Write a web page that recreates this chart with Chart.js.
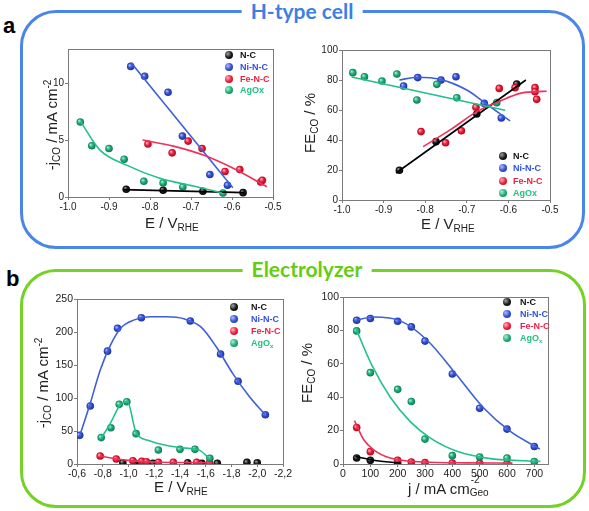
<!DOCTYPE html>
<html><head><meta charset="utf-8">
<script src="https://cdn.jsdelivr.net/npm/chart.js@4.4.1/dist/chart.umd.min.js"></script>
<style>
html,body{margin:0;padding:0;background:#fff;}
#wrap{position:relative;width:589px;height:511px;overflow:hidden;font-family:'Liberation Sans',Arial,sans-serif;background:#fff;}
canvas{position:absolute;left:0;top:0;}
.frame{position:absolute;box-sizing:border-box;border-radius:36px;}
.ftitle{position:absolute;font-family:Lato,'Open Sans',sans-serif;font-weight:700;font-size:21px;background:#fff;line-height:24px;white-space:nowrap;transform:translateX(-50%);padding:0 9px;}
.plabel{position:absolute;font-weight:bold;font-size:22px;line-height:22px;color:#000;}
.xt{position:absolute;font-size:15px;line-height:15px;white-space:nowrap;color:#222;z-index:5;}
.yt{position:absolute;font-size:15px;line-height:15px;white-space:nowrap;color:#222;transform:translate(-50%,-50%) rotate(-90deg);z-index:5;}
.xt sub,.yt sub{font-size:10px;line-height:0;vertical-align:-3px;}
.xt sup,.yt sup{font-size:10px;line-height:0;vertical-align:6px;}
.stack{display:inline-block;position:relative;width:20px;height:10px;}
.stack .s1{position:absolute;left:1px;top:-9px;font-size:10px;line-height:10px;}
.stack .s2{position:absolute;left:0;top:4px;font-size:10px;line-height:10px;}
.lrow{position:absolute;font-size:9px;font-weight:bold;line-height:10px;white-space:nowrap;z-index:5;}
.lrow sub{font-size:6px;line-height:0;vertical-align:-2px;}
.dot{position:absolute;width:8px;height:8px;border-radius:50%;z-index:5;}
</style></head>
<body>
<div id="wrap">
  <div class="frame" style="left:20px;top:10px;width:565px;height:239px;border:3px solid #4a86e8;"></div>
  <div class="ftitle" style="left:302px;top:-1px;color:#3c7fe6;">H-type cell</div>
  <div class="frame" style="left:20px;top:269px;width:566px;height:239px;border:3px solid #74d125;"></div>
  <div class="ftitle" style="left:307px;top:257px;color:#66cc11;">Electrolyzer</div>
  <div class="plabel" style="left:3px;top:15px;">a</div>
  <div class="plabel" style="left:6px;top:268px;">b</div>

  <canvas id="c1" width="589" height="511"></canvas>
  <canvas id="c2" width="589" height="511"></canvas>
  <canvas id="c3" width="589" height="511"></canvas>
  <canvas id="c4" width="589" height="511"></canvas>

  <div class="xt" style="left:145px;top:215px;">E / V<sub>RHE</sub></div>
  <div class="yt" style="left:51px;top:125px;">-j<sub>CO</sub> / mA cm<sup>-2</sup></div>
  <div class="xt" style="left:421px;top:216px;">E / V<sub>RHE</sub></div>
  <div class="yt" style="left:309px;top:123px;">FE<sub>CO</sub> / %</div>
  <div class="xt" style="left:154px;top:479px;">E / V<sub>RHE</sub></div>
  <div class="yt" style="left:42px;top:383px;">-j<sub>CO</sub> / mA cm<sup>-2</sup></div>
  <div class="xt" style="left:408px;top:481px;">j / mA cm<span class="stack"><span class="s1">-2</span><span class="s2">Geo</span></span></div>
  <div class="yt" style="left:306px;top:373px;">FE<sub>CO</sub> / %</div>
  <div id="legends"></div>
</div>
<script>
// ---------- Panel a (H-type cell): partial current density ----------
const aJ_NC_E = [-0.858, -0.768, -0.671, -0.573];
const aJ_NC   = [0.68, 0.59, 0.50, 0.38];
const aJ_Ni_E = [-0.847, -0.813, -0.756, -0.721, -0.654, -0.611];
const aJ_Ni   = [11.47, 10.6, 9.2, 5.35, 1.97, 1.03];
const aJ_Fe_E = [-0.805, -0.746, -0.707, -0.673, -0.617, -0.581, -0.530, -0.526];
const aJ_Fe   = [4.65, 3.88, 4.91, 4.26, 2.24, 2.41, 1.32, 1.47];
const aJ_Ag_E = [-0.970, -0.942, -0.900, -0.863, -0.815, -0.768, -0.720, -0.622];
const aJ_Ag   = [6.59, 4.5, 4.26, 3.32, 1.38, 1.24, 0.88, 0.35];
// fitted curves
const aJfit_NC_E = [-0.865, -0.570];
const aJfit_NC   = [0.65, 0.38];
const aJfit_Ni_E = [-0.846, -0.598];
const aJfit_Ni   = [11.8, 0.82];
const aJfit_Fe_E = [-0.818, -0.743, -0.670, -0.597, -0.515];
const aJfit_Fe   = [5.0, 4.47, 3.68, 2.52, 0.9];
const aJfit_Ag_E = [-0.969, -0.922, -0.857, -0.776, -0.694, -0.625];
const aJfit_Ag   = [6.6, 4.12, 2.8, 1.64, 0.96, 0.38];

// ---------- Panel a: Faradaic efficiency ----------
const aF_NC_E = [-0.862, -0.774, -0.676, -0.580];
const aF_NC   = [19.8, 38.9, 57.3, 77.3];
const aF_Ni_E = [-0.852, -0.818, -0.762, -0.726, -0.658, -0.617];
const aF_Ni   = [76, 81.6, 80, 82.2, 64.4, 54.7];
const aF_Fe_E = [-0.810, -0.751, -0.713, -0.678, -0.622, -0.584, -0.536, -0.536, -0.532];
const aF_Fe   = [45.6, 38.2, 46.2, 61.8, 74.4, 74.9, 74.9, 72.2, 67.1];
const aF_Ag_E = [-0.974, -0.946, -0.904, -0.868, -0.820, -0.772, -0.724, -0.628];
const aF_Ag   = [84.9, 82.2, 79.3, 84, 66.7, 77.1, 68.2, 64.9];
const aFfit_NC_E = [-0.870, -0.558];
const aFfit_NC   = [18, 80];
const aFfit_Ni_E = [-0.862, -0.820, -0.764, -0.700, -0.660, -0.596];
const aFfit_Ni   = [80, 81.8, 80.4, 73.3, 65.5, 52.7];
const aFfit_Fe_E = [-0.805, -0.740, -0.676, -0.620, -0.572, -0.536, -0.508];
const aFfit_Fe   = [35.6, 46.7, 58.9, 66, 71.1, 72.2, 72.5];
const aFfit_Ag_E = [-0.977, -0.608];
const aFfit_Ag   = [82, 59.8];

// ---------- Panel b (Electrolyzer): partial current density ----------
const bJ_NC_E = [-0.956, -1.05, -1.19, -1.46, -1.57, -1.69, -1.92, -2.0];
const bJ_NC   = [2, 1, 1, 2, 1, 1, 2.5, 2];
const bJ_Ni_E = [-0.621, -0.703, -0.837, -0.915, -1.10, -1.48, -1.715, -1.851, -2.063];
const bJ_Ni   = [43.4, 87.9, 171, 205.6, 221.7, 216.7, 166.7, 125.3, 74.7];
const bJ_Fe_E = [-0.78, -0.905, -1.034, -1.103, -1.14, -1.232, -1.348, -1.53, -1.63];
const bJ_Fe   = [12.1, 7.6, 5, 4, 3.5, 2.5, 2.5, 2.5, 2];
const bJ_Ag_E = [-0.788, -0.863, -0.928, -0.987, -1.059, -1.232, -1.40, -1.516, -1.632];
const bJ_Ag   = [40, 55, 90.4, 94.4, 46, 21.2, 22.2, 22.2, 8.6];
const bJfit_Ni_E = [-0.62, -0.70, -0.78, -0.86, -0.94, -1.04, -1.17, -1.30, -1.43, -1.56, -1.68, -1.81, -1.94, -2.06];
const bJfit_Ni   = [42, 90, 142, 180, 206, 218, 223, 223, 220, 208, 178, 137, 102, 75];
const bJfit_Fe_E = [-0.78, -0.90, -1.00, -1.20, -1.40, -1.65];
const bJfit_Fe   = [12, 8, 5.5, 3, 2.2, 1.8];
const bJfit_Ag_E = [-0.788, -0.86, -0.93, -0.99, -1.06, -1.15, -1.30, -1.45, -1.55, -1.63];
const bJfit_Ag   = [39, 62, 88, 95, 47, 36, 28, 24, 21, 8];

// ---------- Panel b: Faradaic efficiency vs current density ----------
const bF_NC_j = [50, 100, 200];
const bF_NC   = [3.6, 2.2, 0.5];
const bF_Ni_j = [50, 100, 200, 250, 300, 400, 500, 600, 700];
const bF_Ni   = [86.1, 87.1, 85.5, 82.1, 73.6, 53.9, 33.4, 20.9, 10.5];
const bF_Fe_j = [50, 100, 200, 250, 300, 400, 500, 600];
const bF_Fe   = [21.9, 7.4, 2.2, 1.2, 0.8, 0.5, 0.4, 0.3];
const bF_Ag_j = [50, 100, 200, 250, 300, 400, 500, 600, 700];
const bF_Ag   = [79.7, 54.7, 44.7, 37.4, 14.9, 5, 4.2, 3.6, 1.4];
const bFfit_NC_j = [45, 112, 210];
const bFfit_NC   = [4.5, 2.2, 0.6];
const bFfit_Ni_j = [45, 112, 210, 310, 411, 512, 612, 720];
const bFfit_Ni   = [86, 88, 85.7, 73.8, 54.3, 34, 19.5, 9];
const bFfit_Fe_j = [42, 76, 112, 173, 295, 450, 620];
const bFfit_Fe   = [26, 14.5, 8.5, 3.6, 1.2, 0.7, 0.5];
const bFfit_Ag_j = [45, 106, 173, 246, 320, 417, 539, 722];
const bFfit_Ag   = [82, 59, 40, 25.4, 15.5, 7.6, 3.2, 1.6];

// ---------- tick labels ----------
const aXTicks = [-1.0, -0.9, -0.8, -0.7, -0.6, -0.5];
const aJYTicks = [0, 5, 10];
const aFYTicks = [0, 20, 40, 60, 80, 100];
const bJXTicks = [-0.6, -0.8, -1.0, -1.2, -1.4, -1.6, -1.8, -2.0, -2.2];
const bJYTicks = [0, 50, 100, 150, 200, 250];
const bFXTicks = [0, 100, 200, 300, 400, 500, 600, 700];
const bFYTicks = [0, 20, 40, 60, 80, 100];

const seriesA = ['N-C', 'Ni-N-C', 'Fe-N-C', 'AgOx'];
const seriesB = ['N-C', 'Ni-N-C', 'Fe-N-C', 'AgO<sub>x</sub>'];

// ---------- styles ----------
const STY = [
  {line:'#000000', base:'#1c1c1c', light:'#a0a0a0', dark:'#000000', text:'#111111'},
  {line:'#3e5fd8', base:'#3553d6', light:'#b0bcff', dark:'#1a2a90', text:'#3050e0'},
  {line:'#f0305a', base:'#f0203c', light:'#ffb4be', dark:'#a00018', text:'#ee2244'},
  {line:'#22c08a', base:'#20b07a', light:'#aaf0d2', dark:'#087048', text:'#24c083'}
];

Chart.defaults.font.family = "'Liberation Sans', Arial, sans-serif";
Chart.defaults.font.size = 10;
Chart.defaults.color = '#222';

function pts(xs, ys){ return xs.map((x,i)=>({x:x, y:ys[i]})); }

function sphere(s){
  return function(ctx){
    if (ctx.type !== 'data' || !ctx.parsed) return s.base;
    const ch = ctx.chart;
    const px = ch.scales.x.getPixelForValue(ctx.parsed.x);
    const py = ch.scales.y.getPixelForValue(ctx.parsed.y);
    if (!isFinite(px) || !isFinite(py)) return s.base;
    const g = ch.ctx.createRadialGradient(px-1.3, py-1.3, 0.2, px, py, 4.2);
    g.addColorStop(0, s.light);
    g.addColorStop(0.45, s.base);
    g.addColorStop(1, s.dark);
    return g;
  };
}

function ptSet(xs, ys, k){
  const s = STY[k];
  return {data: pts(xs, ys), showLine:false, pointRadius:3.8, pointBorderWidth:0,
          pointBackgroundColor: sphere(s), pointBorderColor:'rgba(0,0,0,0)', borderColor:s.base};
}
function fitSet(xs, ys, k){
  const s = STY[k];
  return {data: pts(xs, ys), showLine:true, pointRadius:0, borderWidth:1.6,
          borderColor:s.line, cubicInterpolationMode: xs.length>2 ? 'monotone':'default', fill:false};
}

const boxPlugin = {
  id:'box',
  beforeDatasetsDraw(chart){
    const a = chart.chartArea, c = chart.ctx;
    c.save(); c.strokeStyle = '#7a7a7a'; c.lineWidth = 1;
    c.strokeRect(Math.round(a.left)+0.5, Math.round(a.top)+0.5, Math.round(a.right-a.left), Math.round(a.bottom-a.top));
    c.restore();
  }
};

const YW = 40, XH = 20;
function makeChart(id, o){
  const axis = (min, max, ticks, fmt, rev, isY) => ({
    type:'linear', min:min, max:max, reverse:!!rev,
    grid:{display:true, drawOnChartArea:false, drawTicks:true, tickLength:3, color:'#7a7a7a'},
    border:{display:false},
    ticks:{padding:1, color:'#222', font:{size:o.fs||10}, callback:(v)=>fmt(v), autoSkip:false, maxRotation:0},
    afterBuildTicks:(s)=>{ s.ticks = ticks.map(v=>({value:v})); },
    afterFit:(s)=>{
      if (isY) { s.width = YW; } else { s.height = XH; }
      s.paddingLeft = 0; s.paddingRight = 0; s.paddingTop = 0; s.paddingBottom = 0;
    }
  });
  return new Chart(document.getElementById(id), {
    type:'scatter',
    data:{datasets:o.datasets},
    options:{
      responsive:false, animation:false, events:[],
      layout:{padding:{left:o.L-YW, right:589-o.R, top:o.T, bottom:511-o.B-XH}},
      plugins:{legend:{display:false}, tooltip:{enabled:false}},
      scales:{
        x: axis(o.xMin, o.xMax, o.xTicks, o.xFmt, o.xRev, false),
        y: axis(o.yMin, o.yMax, o.yTicks, o.yFmt, false, true)
      }
    },
    plugins:[boxPlugin]
  });
}

const f1 = v => v.toFixed(1);
const f1c = v => v.toFixed(1).replace('.', ',');
const f0 = v => String(Math.round(v));

makeChart('c1', {L:68, R:273, T:49, B:197, xMin:-1.0, xMax:-0.5, yMin:0, yMax:13,
  xTicks:aXTicks, yTicks:aJYTicks, xFmt:f1, yFmt:f0,
  datasets:[
    fitSet(aJfit_Ag_E, aJfit_Ag, 3), fitSet(aJfit_Fe_E, aJfit_Fe, 2), fitSet(aJfit_Ni_E, aJfit_Ni, 1), fitSet(aJfit_NC_E, aJfit_NC, 0),
    ptSet(aJ_Ag_E, aJ_Ag, 3), ptSet(aJ_Fe_E, aJ_Fe, 2), ptSet(aJ_Ni_E, aJ_Ni, 1), ptSet(aJ_NC_E, aJ_NC, 0)
  ]});
makeChart('c2', {L:342, R:550, T:50, B:200, xMin:-1.0, xMax:-0.5, yMin:0, yMax:100,
  xTicks:aXTicks, yTicks:aFYTicks, xFmt:f1, yFmt:f0,
  datasets:[
    fitSet(aFfit_Ag_E, aFfit_Ag, 3), fitSet(aFfit_Fe_E, aFfit_Fe, 2), fitSet(aFfit_Ni_E, aFfit_Ni, 1), fitSet(aFfit_NC_E, aFfit_NC, 0),
    ptSet(aF_Ag_E, aF_Ag, 3), ptSet(aF_Fe_E, aF_Fe, 2), ptSet(aF_Ni_E, aF_Ni, 1), ptSet(aF_NC_E, aF_NC, 0)
  ]});
makeChart('c3', {L:77, R:283, T:299, B:464, xMin:-2.2, xMax:-0.6, xRev:true, yMin:0, yMax:250, fs:10.5,
  xTicks:bJXTicks, yTicks:bJYTicks, xFmt:f1c, yFmt:f0,
  datasets:[
    fitSet(bJfit_Ag_E, bJfit_Ag, 3), fitSet(bJfit_Fe_E, bJfit_Fe, 2), fitSet(bJfit_Ni_E, bJfit_Ni, 1),
    ptSet(bJ_Ag_E, bJ_Ag, 3), ptSet(bJ_Fe_E, bJ_Fe, 2), ptSet(bJ_Ni_E, bJ_Ni, 1), ptSet(bJ_NC_E, bJ_NC, 0)
  ]});
makeChart('c4', {L:343, R:548, T:297, B:464, xMin:0, xMax:750, yMin:0, yMax:100, fs:10.5,
  xTicks:bFXTicks, yTicks:bFYTicks, xFmt:f0, yFmt:f0,
  datasets:[
    fitSet(bFfit_Ag_j, bFfit_Ag, 3), fitSet(bFfit_Fe_j, bFfit_Fe, 2), fitSet(bFfit_Ni_j, bFfit_Ni, 1), fitSet(bFfit_NC_j, bFfit_NC, 0),
    ptSet(bF_Ag_j, bF_Ag, 3), ptSet(bF_Fe_j, bF_Fe, 2), ptSet(bF_Ni_j, bF_Ni, 1), ptSet(bF_NC_j, bF_NC, 0)
  ]});

// ---------- legends (HTML) ----------
function legend(names, dotX, ys, textX){
  const host = document.getElementById('legends');
  names.forEach((n, i) => {
    const s = STY[i];
    const d = document.createElement('div');
    d.className = 'dot';
    d.style.left = (dotX-4)+'px'; d.style.top = (ys[i]-4)+'px';
    d.style.background = 'radial-gradient(circle at 35% 35%, '+s.light+' 0%, '+s.base+' 50%, '+s.dark+' 100%)';
    host.appendChild(d);
    const t = document.createElement('div');
    t.className = 'lrow';
    t.style.left = textX+'px'; t.style.top = (ys[i]-5)+'px'; t.style.color = s.text;
    t.innerHTML = n;
    host.appendChild(t);
  });
}
legend(seriesA, 229, [55, 67, 79, 90], 240);
legend(seriesA, 503, [156, 168, 181, 193], 513);
legend(seriesB, 234, [307, 319, 331, 343], 251);
legend(seriesB, 507, [302, 314, 326, 338], 520);
</script>
</body></html>
